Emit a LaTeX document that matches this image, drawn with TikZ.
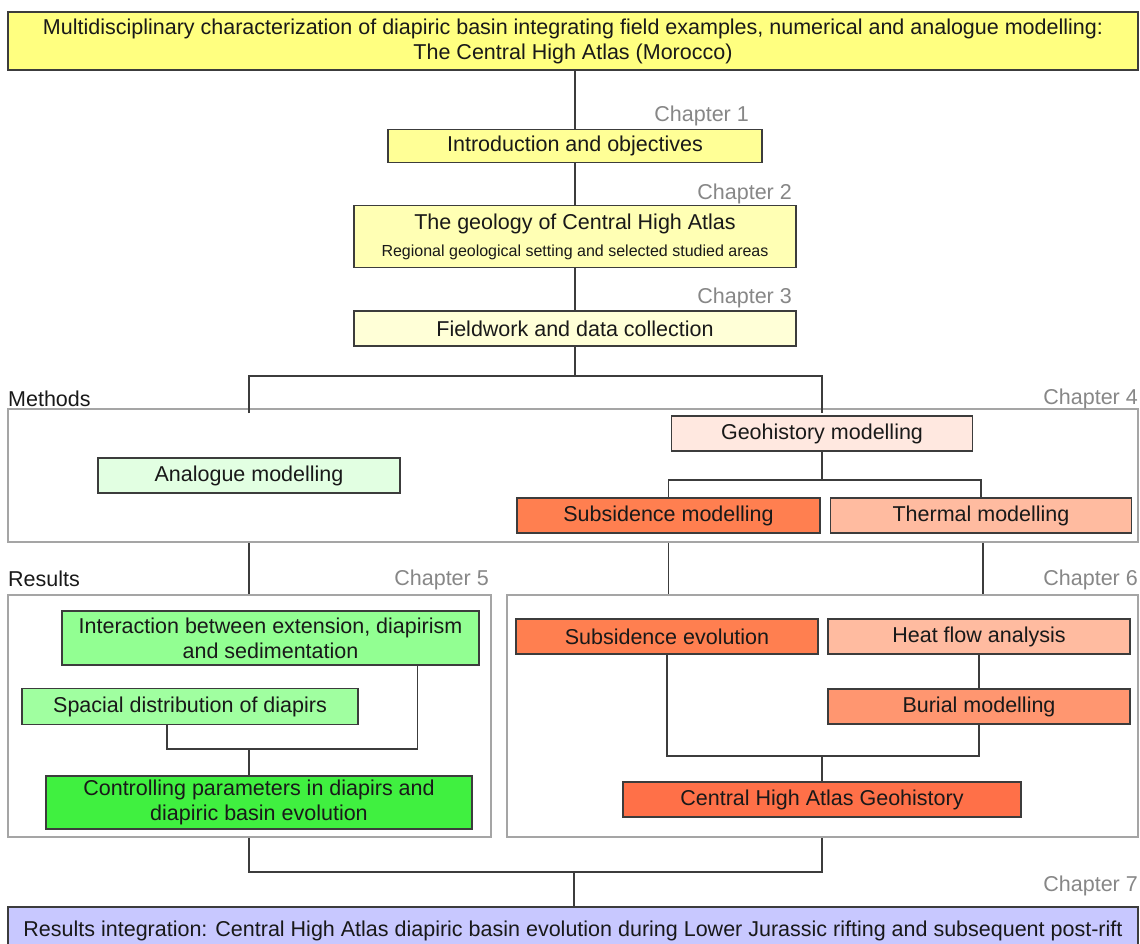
\documentclass[tikz,border=0pt]{standalone}
\usepackage{fontspec}
\setmainfont{Liberation Sans}
\usepackage{xcolor}
\usetikzlibrary{positioning,calc}

\definecolor{ttlyel}{RGB}{255,255,128}
\definecolor{introyel}{RGB}{255,255,150}
\definecolor{geolyel}{RGB}{255,255,180}
\definecolor{fieldyel}{RGB}{255,255,215}
\definecolor{geopink}{RGB}{255,232,224}
\definecolor{analgreen}{RGB}{226,255,226}
\definecolor{corl}{RGB}{255,127,80}
\definecolor{salmn}{RGB}{255,187,160}
\definecolor{burl}{RGB}{255,150,112}
\definecolor{chared}{RGB}{255,112,72}
\definecolor{intgreen}{RGB}{146,255,146}
\definecolor{spacgreen}{RGB}{160,255,160}
\definecolor{ctrlgreen}{RGB}{64,240,64}
\definecolor{lavnd}{RGB}{200,200,255}
\definecolor{edge}{RGB}{60,60,60}
\definecolor{chapgray}{RGB}{135,135,135}
\definecolor{framegray}{RGB}{165,165,165}

\begin{document}
\begin{tikzpicture}[x=1pt, y=-1pt,
    every node/.style={font=\fontsize{21.5}{25}\selectfont, align=center, text=black!90},
    box/.style={draw=edge, line width=1.3pt, inner sep=0pt},
    frm/.style={draw=framegray, line width=1.6pt, inner sep=0pt},
    chap/.style={text=chapgray, anchor=east, inner sep=0pt},
    sect/.style={anchor=west, inner sep=0pt},
    link/.style={draw=edge, line width=1.2pt}]
  \fill[white] (0,0) rectangle (1140,943);

  % frames of the methods and results parts
  \node[frm, minimum width=1130, minimum height=133] (meth) at (573,475.5) {};
  \node[frm, minimum width=483, minimum height=242] (resl) at (249.5,716) {};
  \node[frm, minimum width=631, minimum height=242] (resr) at (822.5,716) {};

  \node[box, fill=ttlyel, minimum width=1130, minimum height=58] (ttl) at (573,41)
      {Multidisciplinary characterization of diapiric basin integrating field examples, numerical and analogue modelling:\\The Central High Atlas (Morocco)};

  \node[box, fill=introyel, minimum width=374, minimum height=33] (intro) at (575,146)
      {Introduction and objectives};
  \node[box, fill=geolyel, minimum width=442, minimum height=62] (geol) at (575,236.5)
      {The geology of Central High Atlas\\[2pt]{\fontsize{16}{19}\selectfont Regional geological setting and selected studied areas}};
  \node[box, fill=fieldyel, minimum width=442, minimum height=35] (field) at (575,328.5)
      {Fieldwork and data collection};

  \node[chap] (c1) at (749,116) {Chapter 1};
  \node[chap] (c2) at (792,194) {Chapter 2};
  \node[chap] (c3) at (792,298) {Chapter 3};
  \node[chap] (c4) at (1138,399) {Chapter 4};
  \node[chap] (c5) at (489,580) {Chapter 5};
  \node[chap] (c6) at (1138,580) {Chapter 6};
  \node[chap] (c7) at (1138,886) {Chapter 7};
  \node[sect] (lmeth) at (8,399) {Methods};
  \node[sect] (lres) at (8,579) {Results};

  % methods
  \node[box, fill=geopink, minimum width=301, minimum height=35] (geoh) at (822,433.5)
      {Geohistory modelling};
  \node[box, fill=analgreen, minimum width=302, minimum height=35] (anal) at (249,475.5)
      {Analogue modelling};
  \node[box, fill=corl, minimum width=303, minimum height=35] (subm) at (668.5,515.5)
      {Subsidence modelling};
  \node[box, fill=salmn, minimum width=301, minimum height=35] (therm) at (981,515.5)
      {Thermal modelling};

  % results, chapter 5
  \node[box, fill=intgreen, minimum width=417, minimum height=54] (inter) at (270.5,638)
      {Interaction between extension, diapirism\\and sedimentation};
  \node[box, fill=spacgreen, minimum width=336, minimum height=36] (spac) at (190,706.5)
      {Spacial distribution of diapirs};
  \node[box, fill=ctrlgreen, minimum width=426, minimum height=53] (ctrl) at (259,802.5)
      {Controlling parameters in diapirs and\\diapiric basin evolution};

  % results, chapter 6
  \node[box, fill=corl, minimum width=302, minimum height=35] (subev) at (667,636.5)
      {Subsidence evolution};
  \node[box, fill=salmn, minimum width=302, minimum height=35] (heat) at (979,636.5)
      {Heat flow analysis};
  \node[box, fill=burl, minimum width=302, minimum height=35] (bur) at (979,706.5)
      {Burial modelling};
  \node[box, fill=chared, minimum width=398, minimum height=35] (cha) at (822,799.5)
      {Central High Atlas Geohistory};

  % last box runs past the lower edge
  \begin{scope}
    \clip (0,0) rectangle (1140,943);
    \node[box, overlay, fill=lavnd, minimum width=1130, minimum height=48] (integ) at (573,931)
        {Results integration: Central High Atlas diapiric basin evolution during Lower Jurassic rifting and subsequent post-rift};
  \end{scope}

  % junctions
  \coordinate (j3) at (575,376);
  \coordinate (j4) at (822,480);
  \coordinate (j5) at (249,749);
  \coordinate (j6) at (822,756);
  \coordinate (j7) at (574,872);

  \draw[link] (ttl.south -| intro) -- (intro);
  \draw[link] (intro) -- (geol);
  \draw[link] (geol) -- (field);
  \draw[link] (field) -- (j3);
  \draw[link] ([yshift=-5pt]anal |- meth.north) |- (j3) -| ([yshift=-5pt]geoh |- meth.north);
  \draw[link] (geoh) -- (j4);
  \draw[link] (subm) |- (j4) -| (therm);
  \draw[link] (anal |- meth.south) -- (anal |- resl.north);
  \draw[link] (subm |- meth.south) -- (subm |- resr.north);
  \draw[link] ([xshift=2pt]therm.south |- meth.south) -- ([xshift=2pt]therm.south |- resr.north);
  \draw[link] ([xshift=-62pt]inter.south east) |- (j5);
  \draw[link] ([xshift=-23pt]spac.south) |- (j5);
  \draw[link] (j5) -- (j5 |- ctrl.north);
  \draw[link] (heat) -- (bur);
  \draw[link] (subev) |- (j6);
  \draw[link] (bur) |- (j6);
  \draw[link] (j6) -- (cha);
  \draw[link] (j5 |- resl.south) |- (j7) -| (j6 |- resr.south);
  \draw[link] (j7) -- (j7 |- integ.north);
\end{tikzpicture}
\end{document}
